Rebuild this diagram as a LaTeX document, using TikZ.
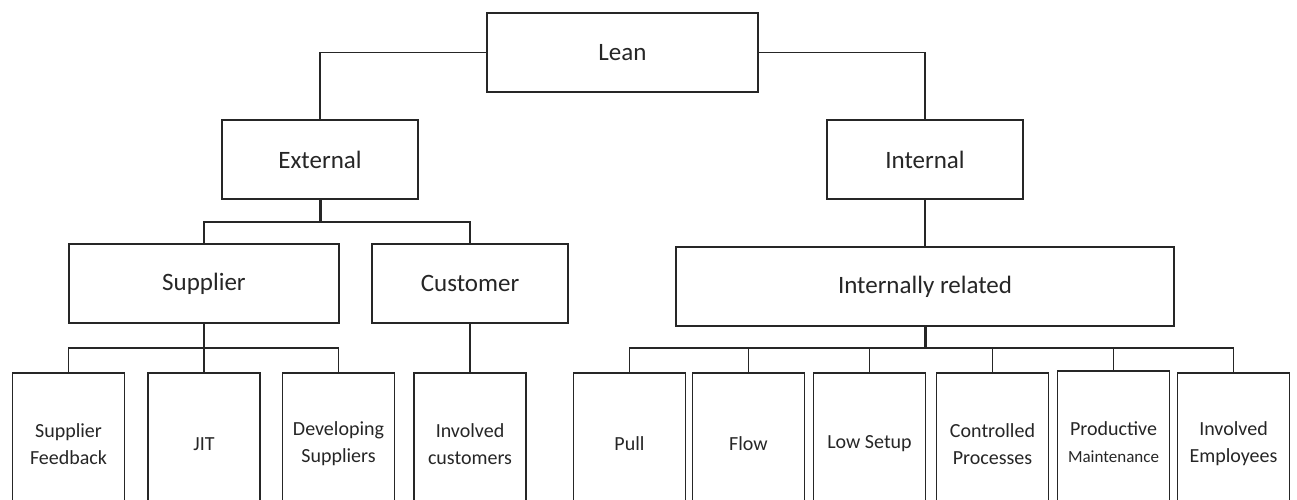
\documentclass[tikz,border=0pt]{standalone}
\usepackage{fontspec}
\setmainfont{Carlito}
\begin{document}
\begin{tikzpicture}[x=1pt,y=-1pt,
  box/.style={draw=black!85, line width=1.6pt, fill=white, text=black!85, inner sep=0pt, align=center},
  topbox/.style={box, font=\fontsize{25}{30}\selectfont, minimum height=79pt},
  leaf/.style={box, font=\fontsize{20}{27}\selectfont, minimum width=112pt, minimum height=142pt},
  conn/.style={draw=black!85, line width=1.5pt},
  trunk/.style={draw=black!85, line width=3pt}]
\useasboundingbox (0,0) rectangle (1297,499);
\clip (0,0) rectangle (1297,499);
% upper levels
\node[topbox, minimum width=271pt] (lean) at (622.5,52.5) {Lean};
\node[topbox, minimum width=196pt] (ext) at (320,159.5) {External};
\node[topbox, minimum width=196pt] (int) at (925,159.5) {Internal};
\node[topbox, minimum width=270pt] (sup) at (204,283.5) {Supplier};
\node[topbox, minimum width=196pt] (cus) at (470,283.5) {Customer};
\node[topbox, minimum width=498pt] (ir) at (925,286.5) {Internally related};
% leaves
\node[leaf] (sf) at (68.5,444) {Supplier\\Feedback};
\node[leaf] (jit) at (204,444) {JIT};
\node[leaf] (dev) at (338.5,444) {Developing\\Suppliers};
\node[leaf] (ic) at (470,444) {Involved\\customers};
\node[leaf] (pull) at (629.5,444) {Pull};
\node[leaf] (flow) at (748.5,444) {Flow};
\node[leaf] (low) at (869.5,444) {Low Setup};
\node[leaf] (ctrl) at (992.5,444) {Controlled\\Processes};
\node[leaf] (prod) at (1113.5,442) {Productive\\{\fontsize{17}{27}\selectfont Maintenance}};
\node[leaf] (emp) at (1233.5,444) {Involved\\Employees};
% junctions
\coordinate (ej) at (320,222);
\coordinate (sj) at (204,348);
\coordinate (ij) at (925,348);
% connectors
\draw[conn] (lean.west) -| (ext.north);
\draw[conn] (lean.east) -| (int.north);
\draw[trunk] (ext.south) -- (ej);
\draw[conn] (sup.north) |- (ej) -| (cus.north);
\draw[conn] (sup.south) -- (jit.north);
\draw[conn] (sf.north) |- (sj) -| (dev.north);
\draw[conn] (cus.south) -- (ic.north);
\draw[conn] (int.south) -- (ir.north);
\draw[trunk] (ir.south) -- (ij);
\draw[conn] (pull.north) |- (ij) -| (emp.north);
\draw[conn] (flow.north) -- (flow.north |- ij);
\draw[conn] (low.north) -- (low.north |- ij);
\draw[conn] (ctrl.north) -- (ctrl.north |- ij);
\draw[conn] (prod.north) -- (prod.north |- ij);
\end{tikzpicture}
\end{document}
